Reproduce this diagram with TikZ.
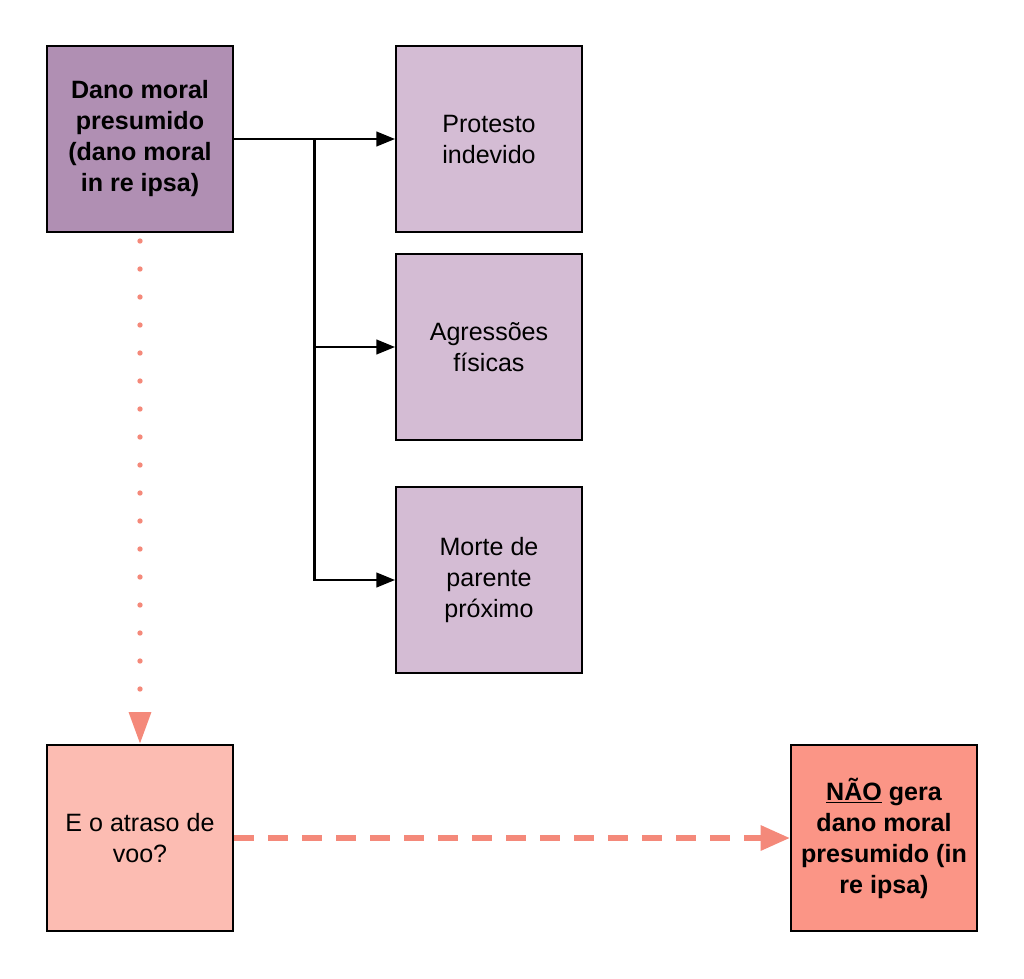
\documentclass[tikz,border=0pt]{standalone}
\usepackage{fontspec}
\setmainfont{Liberation Sans}
\usepackage{xcolor}
\usetikzlibrary{positioning}
\usetikzlibrary{calc,arrows.meta}

\definecolor{mainpurple}{HTML}{B08FB3}
\definecolor{lightpurple}{HTML}{D4BCD4}
\definecolor{lightsalmon}{HTML}{FCBCB2}
\definecolor{darksalmon}{HTML}{FB9586}
\definecolor{linesalmon}{HTML}{F4897A}

\tikzset{
  box/.style={draw, line width=1.5pt, minimum width=139.5pt, minimum height=139.5pt,
    align=center, font=\fontsize{18.8}{23.25}\selectfont, inner sep=0pt},
  link/.style={line width=1.6pt, -{Triangle[length=14pt,width=11pt]}}
}

\begin{document}
\begin{tikzpicture}[node distance=15pt]
\useasboundingbox (0,0) rectangle (768pt,-733.5pt);

\node (dano) [box, fill=mainpurple, font=\fontsize{18.8}{23.25}\selectfont\bfseries] at (105pt,-104.25pt) {Dano moral\\presumido\\(dano moral\\in re ipsa)};

\node (protesto) [box, fill=lightpurple, right=120.75pt of dano] {Protesto\\indevido};
\node (agressoes) [box, fill=lightpurple, below=of protesto] {Agressões\\físicas};
\node (morte) [box, fill=lightpurple, below=33.75pt of agressoes] {Morte de\\parente\\próximo};

\node (atraso) [box, fill=lightsalmon, below=383.25pt of dano] {E o atraso de\\voo?};
\node (nao) [box, fill=darksalmon, font=\fontsize{18.8}{23.25}\selectfont\bfseries, right=417pt of atraso] {\underline{NÃO} gera\\dano moral\\presumido (in\\re ipsa)};

\coordinate (split) at ($(dano.east)!0.5!(protesto.west)$);
\draw [link] (dano.east) -- (protesto.west);
\draw [link] (split) |- (morte.west);
\draw [link] (split |- agressoes.west) -- (agressoes.west);

\draw [linesalmon, line width=4pt, line cap=round, dash pattern=on 0pt off 21pt,
  -{Triangle[length=24pt,width=16pt,line cap=butt]}] ([yshift=-6pt]dano.south) -- (atraso.north);
\draw [linesalmon, line width=4.5pt, dash pattern=on 15pt off 10.5pt,
  -{Triangle[length=22pt,width=18pt]}] (atraso.east) -- (nao.west);
\end{tikzpicture}
\end{document}
